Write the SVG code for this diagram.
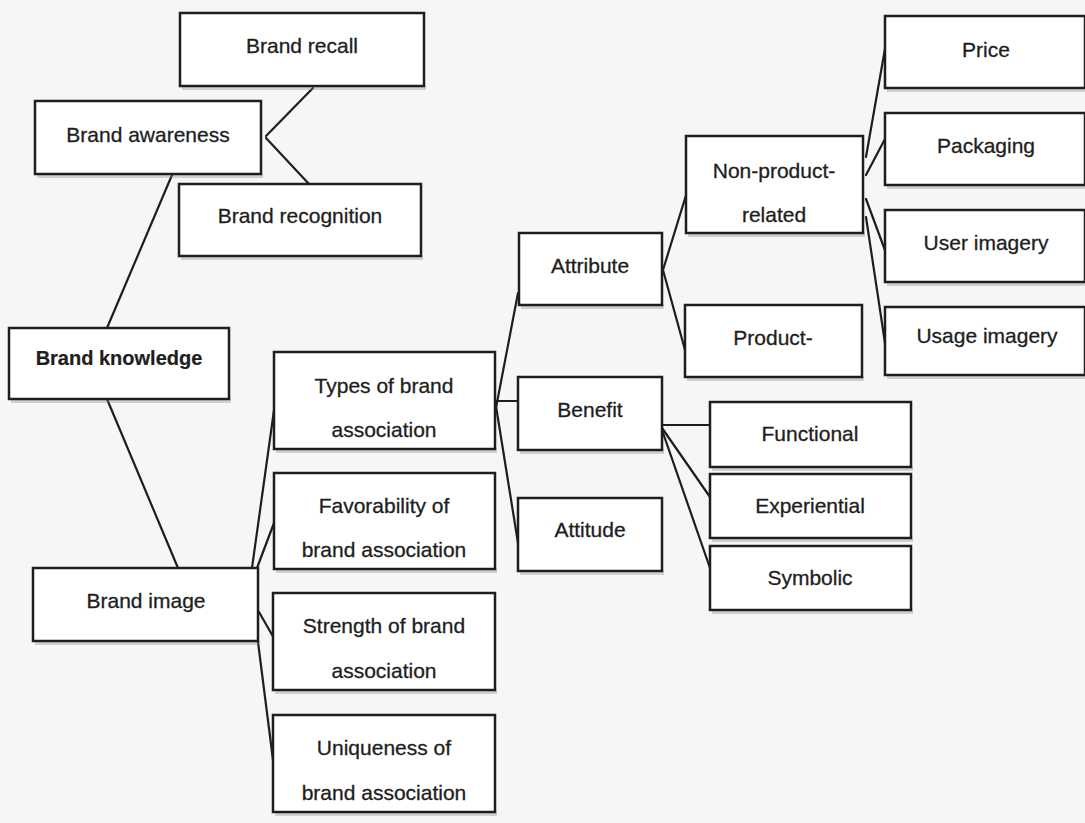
<svg xmlns="http://www.w3.org/2000/svg" width="1085" height="823" viewBox="0 0 1085 823">
  <style>
    .box { fill: #ffffff; stroke: #1e1e1e; stroke-width: 2.5; }
    .shadow { fill: #8a8a8a; opacity: 0.35; }
    .lbl { font-family: "Liberation Sans", Arial, sans-serif; font-size: 21px; fill: #1e1e1e; stroke: #1e1e1e; stroke-width: 0.3; text-anchor: middle; }
    .strong { font-weight: bold; font-size: 20px; stroke-width: 0.2; }
    .link { fill: none; stroke: #1e1e1e; stroke-width: 2.2; stroke-linecap: round; }
  </style>
  <rect width="1085" height="823" fill="#f6f6f5"/>

  <!-- connectors -->
  <g id="connectors">
    <line class="link" x1="266" y1="136" x2="313" y2="88"/>
    <line class="link" x1="266" y1="138" x2="309" y2="184"/>
    <line class="link" x1="172" y1="175" x2="107" y2="328"/>
    <line class="link" x1="107" y1="399" x2="178" y2="568"/>
    <line class="link" x1="252" y1="568" x2="275" y2="403"/>
    <line class="link" x1="257" y1="568" x2="274" y2="523"/>
    <line class="link" x1="259" y1="612" x2="275" y2="640"/>
    <line class="link" x1="258" y1="642" x2="273" y2="760"/>
    <line class="link" x1="495" y1="413" x2="518" y2="293"/>
    <line class="link" x1="495" y1="401" x2="518" y2="401"/>
    <line class="link" x1="495" y1="400" x2="518" y2="543"/>
    <line class="link" x1="663" y1="270" x2="687" y2="192"/>
    <line class="link" x1="663" y1="270" x2="685" y2="350"/>
    <line class="link" x1="662" y1="425" x2="710" y2="425"/>
    <line class="link" x1="662" y1="428" x2="710" y2="497"/>
    <line class="link" x1="662" y1="430" x2="710" y2="568"/>
    <line class="link" x1="866" y1="157" x2="886" y2="43"/>
    <line class="link" x1="866" y1="175" x2="886" y2="137"/>
    <line class="link" x1="866" y1="199" x2="886" y2="253"/>
    <line class="link" x1="866" y1="217" x2="885" y2="343"/>
  </g>

  <!-- awareness branch -->
  <g id="brand-recall">
    <rect class="shadow" x="182" y="85" width="244" height="5"/>
    <rect class="box" x="180" y="13" width="244" height="73"/>
    <text class="lbl" x="302" y="53">Brand recall</text>
  </g>
  <g id="brand-awareness">
    <rect class="shadow" x="37" y="173" width="226" height="5"/>
    <rect class="box" x="35" y="101" width="226" height="73"/>
    <text class="lbl" x="148" y="142">Brand awareness</text>
  </g>
  <g id="brand-recognition">
    <rect class="shadow" x="181" y="255" width="242" height="5"/>
    <rect class="box" x="179" y="184" width="242" height="72"/>
    <text class="lbl" x="300" y="223">Brand recognition</text>
  </g>

  <!-- root -->
  <g id="brand-knowledge">
    <rect class="shadow" x="11" y="398" width="220" height="5"/>
    <rect class="box" x="9" y="328" width="220" height="71"/>
    <text class="lbl strong" x="119" y="365">Brand knowledge</text>
  </g>

  <!-- image branch -->
  <g id="brand-image">
    <rect class="shadow" x="35" y="640" width="225" height="5"/>
    <rect class="box" x="33" y="568" width="225" height="73"/>
    <text class="lbl" x="146" y="608">Brand image</text>
  </g>
  <g id="types">
    <rect class="shadow" x="276" y="448" width="221" height="5"/>
    <rect class="box" x="274" y="352" width="221" height="97"/>
    <text class="lbl" x="384" y="393">Types of brand</text>
    <text class="lbl" x="384" y="437">association</text>
  </g>
  <g id="favorability">
    <rect class="shadow" x="276" y="568" width="221" height="5"/>
    <rect class="box" x="274" y="473" width="221" height="96"/>
    <text class="lbl" x="384" y="513">Favorability of</text>
    <text class="lbl" x="384" y="557">brand association</text>
  </g>
  <g id="strength">
    <rect class="shadow" x="275" y="689" width="222" height="5"/>
    <rect class="box" x="273" y="593" width="222" height="97"/>
    <text class="lbl" x="384" y="633">Strength of brand</text>
    <text class="lbl" x="384" y="678">association</text>
  </g>
  <g id="uniqueness">
    <rect class="shadow" x="275" y="811" width="222" height="5"/>
    <rect class="box" x="273" y="715" width="222" height="97"/>
    <text class="lbl" x="384" y="755">Uniqueness of</text>
    <text class="lbl" x="384" y="800">brand association</text>
  </g>

  <!-- association types -->
  <g id="attribute">
    <rect class="shadow" x="521" y="304" width="143" height="5"/>
    <rect class="box" x="519" y="233" width="143" height="72"/>
    <text class="lbl" x="590" y="273">Attribute</text>
  </g>
  <g id="benefit">
    <rect class="shadow" x="520" y="449" width="144" height="5"/>
    <rect class="box" x="518" y="377" width="144" height="73"/>
    <text class="lbl" x="590" y="417">Benefit</text>
  </g>
  <g id="attitude">
    <rect class="shadow" x="520" y="570" width="144" height="5"/>
    <rect class="box" x="518" y="498" width="144" height="73"/>
    <text class="lbl" x="590" y="537">Attitude</text>
  </g>

  <!-- attribute detail -->
  <g id="non-product-related">
    <rect class="shadow" x="688" y="232" width="177" height="5"/>
    <rect class="box" x="686" y="136" width="177" height="97"/>
    <text class="lbl" x="774" y="178">Non-product-</text>
    <text class="lbl" x="774" y="222">related</text>
  </g>
  <g id="product-related">
    <rect class="shadow" x="687" y="376" width="177" height="5"/>
    <rect class="box" x="685" y="305" width="177" height="72"/>
    <text class="lbl" x="773" y="345">Product-</text>
  </g>

  <!-- benefit detail -->
  <g id="functional">
    <rect class="shadow" x="712" y="466" width="201" height="5"/>
    <rect class="box" x="710" y="402" width="201" height="65"/>
    <text class="lbl" x="810" y="441">Functional</text>
  </g>
  <g id="experiential">
    <rect class="shadow" x="712" y="537" width="201" height="5"/>
    <rect class="box" x="710" y="474" width="201" height="64"/>
    <text class="lbl" x="810" y="513">Experiential</text>
  </g>
  <g id="symbolic">
    <rect class="shadow" x="712" y="609" width="201" height="5"/>
    <rect class="box" x="710" y="546" width="201" height="64"/>
    <text class="lbl" x="810" y="585">Symbolic</text>
  </g>

  <!-- non-product-related detail -->
  <g id="price">
    <rect class="shadow" x="887" y="87" width="200" height="5"/>
    <rect class="box" x="885" y="16" width="200" height="72"/>
    <text class="lbl" x="986" y="57">Price</text>
  </g>
  <g id="packaging">
    <rect class="shadow" x="887" y="184" width="200" height="5"/>
    <rect class="box" x="885" y="113" width="200" height="72"/>
    <text class="lbl" x="986" y="153">Packaging</text>
  </g>
  <g id="user-imagery">
    <rect class="shadow" x="887" y="281" width="200" height="5"/>
    <rect class="box" x="885" y="210" width="200" height="72"/>
    <text class="lbl" x="986" y="250">User imagery</text>
  </g>
  <g id="usage-imagery">
    <rect class="shadow" x="887" y="374" width="200" height="5"/>
    <rect class="box" x="885" y="307" width="200" height="68"/>
    <text class="lbl" x="987" y="343">Usage imagery</text>
  </g>
</svg>
